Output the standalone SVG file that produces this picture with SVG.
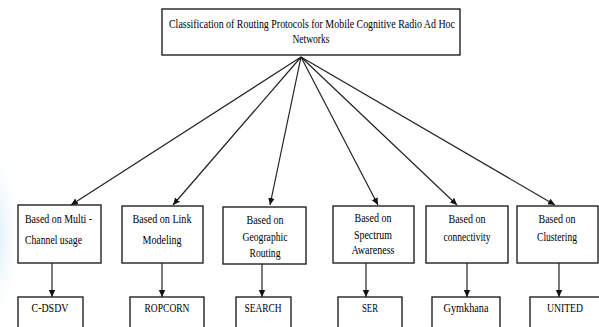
<svg xmlns="http://www.w3.org/2000/svg" width="599" height="327" viewBox="0 0 599 327">
<defs>
<marker id="ah" markerWidth="8" markerHeight="8" refX="7" refY="4" orient="auto" markerUnits="userSpaceOnUse">
<path d="M0,0.8 L7,4 L0,7.2 z" fill="#111"/>
</marker>
<radialGradient id="wm" cx="0.3" cy="0.5" r="0.6">
<stop offset="0" stop-color="#cfe9f7" stop-opacity="0.9"/>
<stop offset="1" stop-color="#ffffff" stop-opacity="0"/>
</radialGradient>
<style>
rect.b{fill:#fff;stroke:#222;stroke-width:1.4}
text{font-size:12.5px;fill:#000;text-anchor:middle}
text.l{text-anchor:start}
.c line{stroke:#222;stroke-width:1.2;marker-end:url(#ah)}
</style>
</defs>
<rect width="599" height="327" fill="#fff"/>
<ellipse cx="4" cy="235" rx="22" ry="80" fill="url(#wm)"/>
<g font-family="'Liberation Serif', 'DejaVu Serif', serif">
<g id="root">
<rect class="b" x="162" y="9" width="298" height="46"/>
<text x="312" y="28" textLength="286" lengthAdjust="spacingAndGlyphs">Classification of Routing Protocols for Mobile Cognitive Radio Ad Hoc</text>
<text x="311" y="43" textLength="37" lengthAdjust="spacingAndGlyphs">Networks</text>
</g>
<g id="n1">
<rect class="b" x="18" y="205" width="83" height="58"/>
<text class="l" x="25" y="223" textLength="67" lengthAdjust="spacingAndGlyphs">Based on Multi -</text>
<text class="l" x="25" y="244" textLength="57" lengthAdjust="spacingAndGlyphs">Channel usage</text>
</g>
<g id="n2">
<rect class="b" x="122" y="206" width="81" height="57"/>
<text x="162" y="223" textLength="59" lengthAdjust="spacingAndGlyphs">Based on Link</text>
<text x="162" y="244" textLength="39" lengthAdjust="spacingAndGlyphs">Modeling</text>
</g>
<g id="n3">
<rect class="b" x="223" y="207" width="83" height="57"/>
<text x="265" y="224" textLength="37" lengthAdjust="spacingAndGlyphs">Based on</text>
<text x="265" y="241" textLength="45" lengthAdjust="spacingAndGlyphs">Geographic</text>
<text x="265" y="257" textLength="31" lengthAdjust="spacingAndGlyphs">Routing</text>
</g>
<g id="n4">
<rect class="b" x="333" y="206" width="81" height="57"/>
<text x="373" y="222" textLength="37" lengthAdjust="spacingAndGlyphs">Based on</text>
<text x="373" y="239" textLength="38" lengthAdjust="spacingAndGlyphs">Spectrum</text>
<text x="373" y="254" textLength="43" lengthAdjust="spacingAndGlyphs">Awareness</text>
</g>
<g id="n5">
<rect class="b" x="426" y="206" width="82" height="57"/>
<text x="467" y="223" textLength="37" lengthAdjust="spacingAndGlyphs">Based on</text>
<text x="467" y="241" textLength="47" lengthAdjust="spacingAndGlyphs">connectivity</text>
</g>
<g id="n6">
<rect class="b" x="517" y="206" width="81" height="57"/>
<text x="557" y="223" textLength="37" lengthAdjust="spacingAndGlyphs">Based on</text>
<text x="557" y="241" textLength="40" lengthAdjust="spacingAndGlyphs">Clustering</text>
</g>
<g id="p1">
<rect class="b" x="18" y="297" width="65" height="40"/>
<text x="50" y="312" textLength="37" lengthAdjust="spacingAndGlyphs">C-DSDV</text>
</g>
<g id="p2">
<rect class="b" x="130" y="297" width="74" height="40"/>
<text x="167" y="312" textLength="45" lengthAdjust="spacingAndGlyphs">ROPCORN</text>
</g>
<g id="p3">
<rect class="b" x="236" y="297" width="55" height="40"/>
<text x="263" y="312" textLength="37" lengthAdjust="spacingAndGlyphs">SEARCH</text>
</g>
<g id="p4">
<rect class="b" x="338" y="297" width="64" height="40"/>
<text x="370" y="312" textLength="16" lengthAdjust="spacingAndGlyphs">SER</text>
</g>
<g id="p5">
<rect class="b" x="432" y="297" width="68" height="40"/>
<text x="466" y="312" textLength="45" lengthAdjust="spacingAndGlyphs">Gymkhana</text>
</g>
<g id="p6">
<rect class="b" x="530" y="297" width="75" height="40"/>
<text x="565" y="312" textLength="36" lengthAdjust="spacingAndGlyphs">UNITED</text>
</g>
</g>
<g class="c" id="connectors">
<line x1="301" y1="57" x2="71" y2="205"/>
<line x1="301" y1="57" x2="173" y2="205"/>
<line x1="301" y1="57" x2="270" y2="205"/>
<line x1="301" y1="57" x2="378" y2="205"/>
<line x1="301" y1="57" x2="457" y2="205"/>
<line x1="301" y1="57" x2="555" y2="205"/>
<line x1="52" y1="263" x2="52" y2="297"/>
<line x1="162" y1="263" x2="162" y2="297"/>
<line x1="262" y1="264" x2="262" y2="297"/>
<line x1="366" y1="263" x2="366" y2="297"/>
<line x1="467" y1="263" x2="467" y2="297"/>
<line x1="559" y1="263" x2="559" y2="297"/>
</g>
</svg>
